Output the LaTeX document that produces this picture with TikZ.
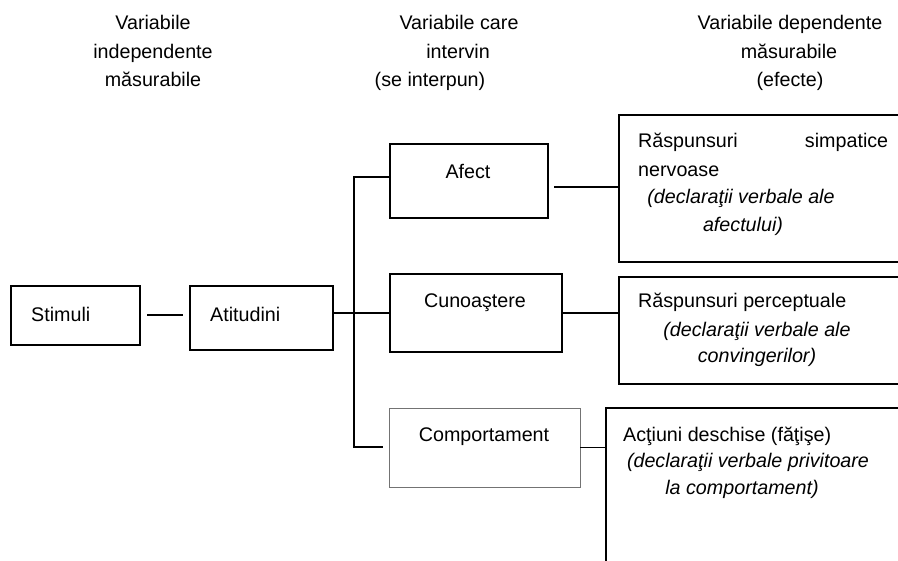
\documentclass[tikz,border=0pt]{standalone}
\usepackage{fontspec}
\setmainfont{Liberation Sans}
\begin{document}
\begin{tikzpicture}[x=1pt,y=-1pt,
  box/.style={draw, line width=1.1pt, inner sep=0pt, outer sep=0pt, anchor=north west},
  openbox/.style={draw=none, inner sep=0pt, outer sep=0pt, anchor=north west},
  conn/.style={line width=1.1pt},
  lbl/.style={inner sep=0pt, anchor=base, font=\fontsize{19.7}{27}\selectfont},
  lblw/.style={lbl, anchor=base west},
  itl/.style={lbl, font=\fontsize{19.7}{27}\selectfont\itshape}
]
\useasboundingbox (0,0) rectangle (898,561);

% column headings
\node[lbl] (h1a) at (153,30) {Variabile};
\node[lbl] (h1b) at (153,59) {independente};
\node[lbl] (h1c) at (153,87) {măsurabile};
\node[lbl] (h2a) at (459,30) {Variabile care};
\node[lbl] (h2b) at (458,59) {intervin};
\node[lbl] (h2c) at (430,87) {(se interpun)};
\node[lbl] (h3a) at (790,30) {Variabile dependente};
\node[lbl] (h3b) at (789,59) {măsurabile};
\node[lbl] (h3c) at (790,87) {(efecte)};

% boxes
\node[box, minimum width=129pt, minimum height=59pt] (stim) at (11,286) {};
\node[box, minimum width=143pt, minimum height=64pt] (atit) at (190,286) {};
\node[box, minimum width=158pt, minimum height=74pt] (afect) at (390,144) {};
\node[box, minimum width=172pt, minimum height=78pt] (cun) at (390,274) {};
\node[box, draw=black!55, line width=0.8pt, minimum width=191pt, minimum height=79pt] (comp) at (389,408) {};

\node[openbox, minimum width=279pt, minimum height=147pt] (r1) at (619,115) {};
\node[openbox, minimum width=279pt, minimum height=107pt] (r2) at (619,277) {};
\node[openbox, minimum width=292pt, minimum height=153pt] (r3) at (606,408) {};
\draw[conn] (r1.north east) -- (r1.north west) -- (r1.south west) -- (r1.south east);
\draw[conn] (r2.north east) -- (r2.north west) -- (r2.south west) -- (r2.south east);
\draw[conn] (r3.north east) -- (r3.north west) -- (r3.south west);

% box texts
\node[lblw] (tstim) at (31,322) {Stimuli};
\node[lblw] (tatit) at (210,322) {Atitudini};
\node[lbl] (tafect) at (468,179) {Afect};
\node[lbl] (tcun) at (475,308) {Cunoaştere};
\node[lbl] (tcomp) at (484,442) {Comportament};

\node[lblw] (t1a) at (638,148) {\makebox[250pt][s]{Răspunsuri simpatice}};
\node[lblw] (t1b) at (638,177) {nervoase};
\node[itl] (t1c) at (741,204) {(declaraţii verbale ale};
\node[itl] (t1d) at (743,232) {afectului)};

\node[lblw] (t2a) at (638,308) {Răspunsuri perceptuale};
\node[itl] (t2b) at (757,337) {(declaraţii verbale ale};
\node[itl] (t2c) at (757,363) {convingerilor)};

\node[lblw] (t3a) at (623,442) {Acţiuni deschise (făţişe)};
\node[itl] (t3b) at (748,468) {(declaraţii verbale privitoare};
\node[itl] (t3c) at (742,495) {la comportament)};

% connectors
\coordinate (s1) at (147,315);
\coordinate (s2) at (183,315);
\draw[conn] (s1) -- (s2);
\draw[conn] (cun.west -| atit.east) -- (cun.west);
\coordinate (bt) at (354,177);
\coordinate (bb) at (354,447);
\coordinate (cl) at (383,447);
\draw[conn] (bt -| afect.west) -- (bt) -- (bb) -- (cl);
\coordinate (a1) at (554,187);
\draw[conn] (a1) -- (a1 -| r1.west);
\draw[conn] (cun.east) -- (cun.east -| r2.west);
\draw[conn] (comp.east) -- (comp.east -| r3.west);
\end{tikzpicture}
\end{document}
